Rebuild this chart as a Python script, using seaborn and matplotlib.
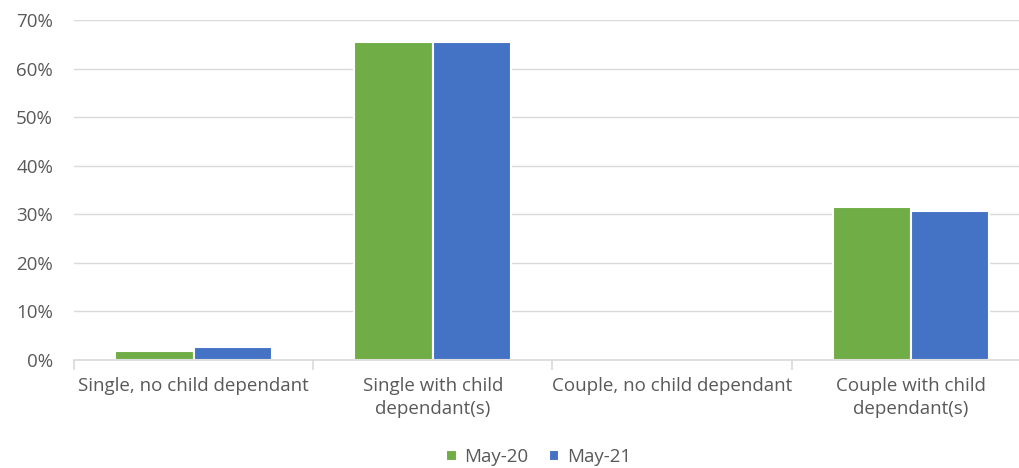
import matplotlib
matplotlib.use("Agg")
import matplotlib.pyplot as plt
import matplotlib.ticker as mtick
import seaborn as sns
import pandas as pd

categories = ["Single, no child dependant", "Single with child\ndependant(s)",
              "Couple, no child dependant", "Couple with child\ndependant(s)"]
may20 = [0.019, 0.654, 0.0, 0.314]
may21 = [0.026, 0.655, 0.0, 0.307]
series = ["May-20", "May-21"]
colors = ["#70AD47", "#4472C4"]

df = pd.DataFrame({
    "category": categories * 2,
    "value": may20 + may21,
    "period": [series[0]] * 4 + [series[1]] * 4,
})

sns.set_style("white")
plt.rcParams["font.family"] = ["Open Sans", "DejaVu Sans"]
text_color = "#595959"
axis_color = "#D9D9D9"

fig = plt.figure(figsize=(10.2, 4.68), dpi=100)
# plot area runs slightly past the right edge, as in the original crop
ax = fig.add_axes([0.0725, 0.2308, 0.938, 0.7265])

sns.barplot(data=df, x="category", y="value", hue="period", palette=colors,
            saturation=1, width=0.655, edgecolor="white", linewidth=1.5,
            ax=ax, legend=True)

ax.set_ylim(0, 0.70)
ax.set_xlim(-0.5, 3.5)
ax.yaxis.set_major_locator(mtick.MultipleLocator(0.10))
ax.yaxis.set_major_formatter(mtick.PercentFormatter(1.0, decimals=0))
ax.grid(axis="y", color=axis_color, linewidth=1)
ax.set_axisbelow(True)
for s in ["top", "right", "left"]:
    ax.spines[s].set_visible(False)
ax.spines["bottom"].set_color(axis_color)
ax.spines["bottom"].set_linewidth(1.2)

ax.set_xlabel("")
ax.set_ylabel("")
ax.tick_params(axis="y", length=0, labelsize=13.5, labelcolor=text_color, pad=15)
ax.set_xticks(range(4))
ax.set_xticklabels(categories, linespacing=1.4)
ax.tick_params(axis="x", which="major", length=0, labelsize=13.5,
               labelcolor=text_color, pad=12)
# category separator tick marks
ax.set_xticks([-0.5, 0.5, 1.5, 2.5, 3.5], minor=True)
ax.tick_params(axis="x", which="minor", bottom=True, length=7,
               color=axis_color, width=1.2)

handles, labels = ax.get_legend_handles_labels()
fig.legend(handles, labels, loc="center", bbox_to_anchor=(0.528, 1 - 457 / 468),
           ncol=2, frameon=False, fontsize=13.5, labelcolor=text_color,
           handlelength=0.55, handleheight=0.55, handletextpad=0.4,
           columnspacing=1.1)
ax.get_legend().remove()

fig.savefig("out.png", dpi=100)
